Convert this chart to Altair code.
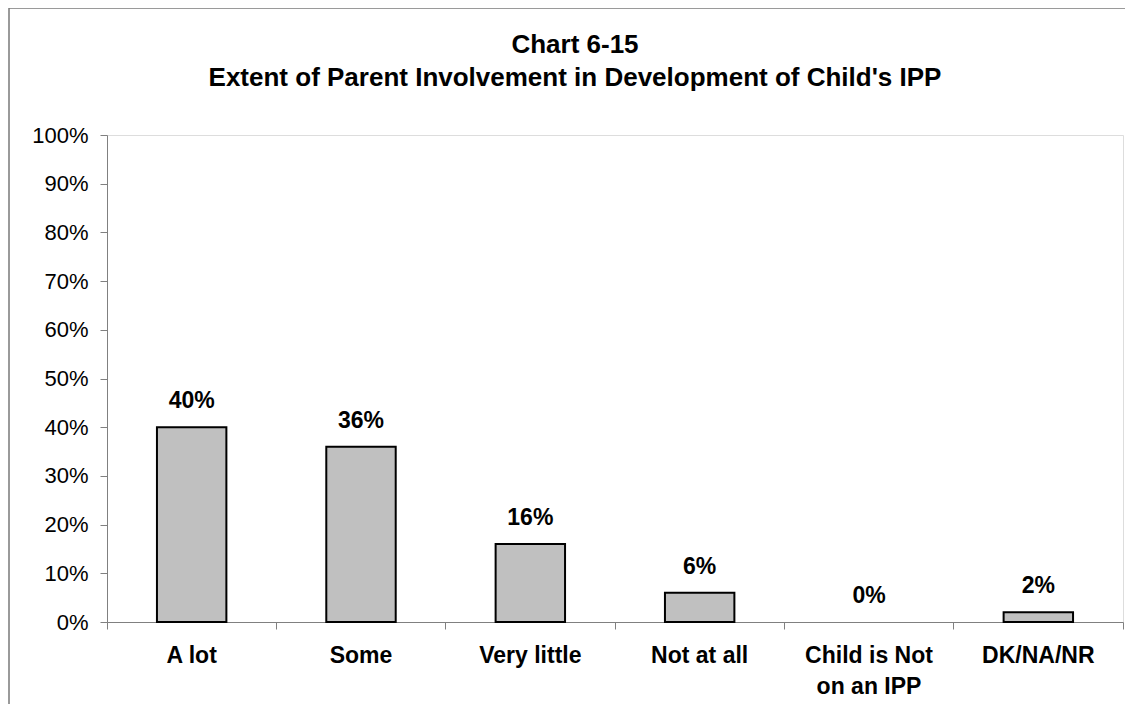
import altair as alt
import pandas as pd

categories = ["A lot", "Some", "Very little", "Not at all", "Child is Not on an IPP", "DK/NA/NR"]
values = [0.40, 0.36, 0.16, 0.06, 0.00, 0.02]
y_ticks = [0, 0.1, 0.2, 0.3, 0.4, 0.5, 0.6, 0.7, 0.8, 0.9, 1.0]
title_lines = ["Chart 6-15", "Extent of Parent Involvement in Development of Child's IPP"]

df = pd.DataFrame({"category": categories, "value": values})

FONT = "Liberation Sans"
W, H = 1016, 487

x_enc = alt.X(
    "category:N",
    sort=categories,
    scale=alt.Scale(paddingInner=0, paddingOuter=0),
    axis=alt.Axis(
        title=None,
        labelAngle=0,
        labelFont=FONT,
        labelFontSize=23,
        labelFontWeight="bold",
        labelColor="black",
        labelPadding=15,
        labelLineHeight=31,
        labelExpr="datum.label == 'Child is Not on an IPP' ? ['Child is Not', 'on an IPP'] : datum.label",
        bandPosition=1,
        tickExtra=True,
        tickSize=7,
        tickColor="#808080",
        domainColor="#808080",
        labelBound=False,
    ),
)

y_enc = alt.Y(
    "value:Q",
    scale=alt.Scale(domain=[0, 1], nice=False),
    axis=alt.Axis(
        title=None,
        format="%",
        values=y_ticks,
        grid=False,
        labelFont=FONT,
        labelFontSize=22,
        labelColor="black",
        labelPadding=12,
        tickSize=7,
        tickColor="#808080",
        domainColor="#808080",
    ),
)

base = alt.Chart(df)

bars = base.mark_bar(
    width=alt.RelativeBandSize(0.41),
    fill="#C0C0C0",
    stroke="black",
    strokeWidth=2,
).encode(x=x_enc, y=y_enc).transform_filter("datum.value > 0")

labels = base.mark_text(
    font=FONT,
    fontSize=23,
    fontWeight="bold",
    baseline="alphabetic",
    dy=-19,
    color="black",
).encode(x=x_enc, y=y_enc, text=alt.Text("value:Q", format=".0%"))

border = alt.Chart(alt.Data(values=[{"a": 1}])).mark_rect(
    fillOpacity=0,
    stroke="#7a7a7a",
    strokeWidth=1.5,
).encode(
    x=alt.value(-98),
    x2=alt.value(W + 80),
    y=alt.value(-127),
    y2=alt.value(H + 200),
)

chart = alt.layer(border, bars, labels).properties(
    width=W,
    height=H,
    title=alt.TitleParams(
        text=title_lines,
        font=FONT,
        fontSize=26,
        fontWeight="bold",
        color="black",
        anchor="middle",
        frame="group",
        baseline="alphabetic",
        lineHeight=33,
        dx=-40,
        offset=-105,
    ),
    autosize=alt.AutoSizeParams(type="none"),
    padding={"left": 99, "top": 127, "right": 2, "bottom": 82},
).configure_view(stroke=None).configure(background="white")

chart.save("out.html", embed_options={"renderer": "svg", "actions": False})
